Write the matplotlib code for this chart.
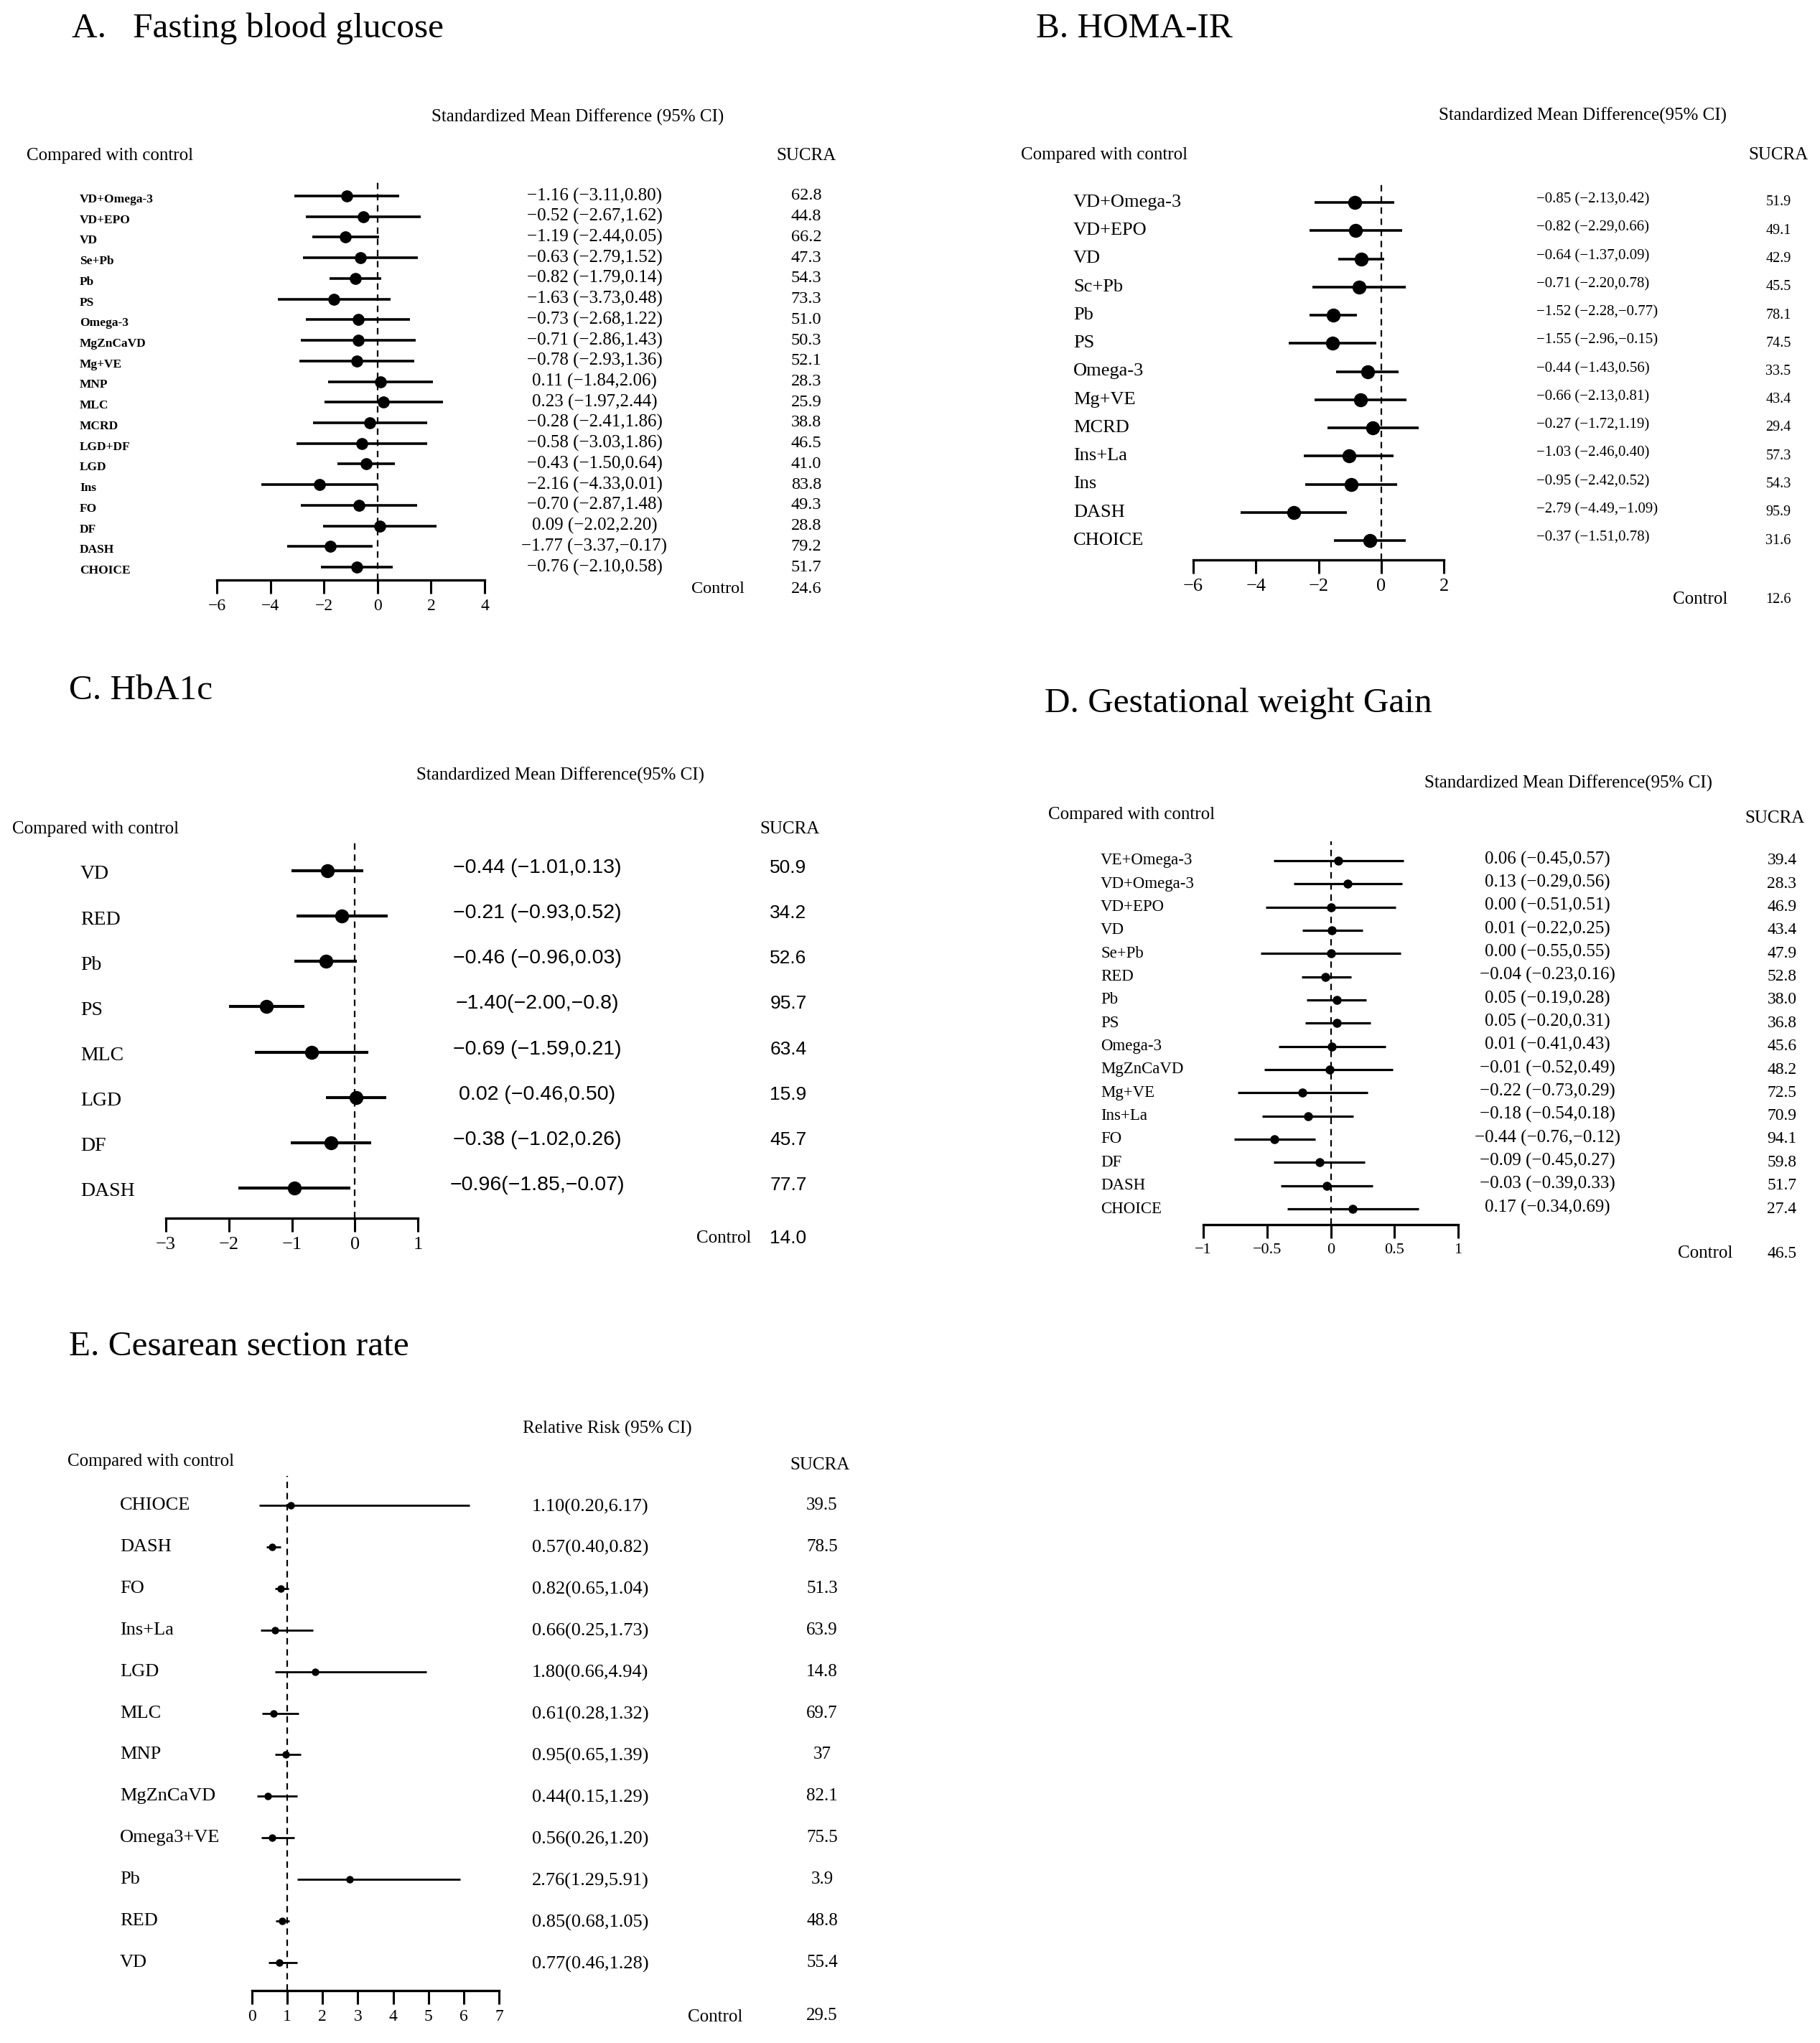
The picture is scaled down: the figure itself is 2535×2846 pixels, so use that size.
import matplotlib.pyplot as plt
import numpy as np

# figure size in pixels (saved at dpi 100)
W, H = 2535, 2846
plt.rcParams['font.family'] = ['Liberation Serif', 'DejaVu Serif']

# ---- A. Fasting blood glucose ----
a_labels = ['VD+Omega-3', 'VD+EPO', 'VD', 'Se+Pb', 'Pb', 'PS', 'Omega-3', 'MgZnCaVD', 'Mg+VE',
            'MNP', 'MLC', 'MCRD', 'LGD+DF', 'LGD', 'Ins', 'FO', 'DF', 'DASH', 'CHOICE']
a_est = [-1.16, -0.52, -1.19, -0.63, -0.82, -1.63, -0.73, -0.71, -0.78, 0.11, 0.23, -0.28, -0.58,
         -0.43, -2.16, -0.70, 0.09, -1.77, -0.76]
a_lo = [-3.11, -2.67, -2.44, -2.79, -1.79, -3.73, -2.68, -2.86, -2.93, -1.84, -1.97, -2.41, -3.03,
        -1.50, -4.33, -2.87, -2.02, -3.37, -2.10]
a_hi = [0.80, 1.62, 0.05, 1.52, 0.14, 0.48, 1.22, 1.43, 1.36, 2.06, 2.44, 1.86, 1.86,
        0.64, 0.01, 1.48, 2.20, -0.17, 0.58]
a_sucra = [62.8, 44.8, 66.2, 47.3, 54.3, 73.3, 51.0, 50.3, 52.1, 28.3, 25.9, 38.8, 46.5,
           41.0, 83.8, 49.3, 28.8, 79.2, 51.7]
a_control = 24.6
a_ticks = [-6, -4, -2, 0, 2, 4]

# ---- B. HOMA-IR ----
b_labels = ['VD+Omega-3', 'VD+EPO', 'VD', 'Sc+Pb', 'Pb', 'PS', 'Omega-3', 'Mg+VE', 'MCRD',
            'Ins+La', 'Ins', 'DASH', 'CHOICE']
b_est = [-0.85, -0.82, -0.64, -0.71, -1.52, -1.55, -0.44, -0.66, -0.27, -1.03, -0.95, -2.79, -0.37]
b_lo = [-2.13, -2.29, -1.37, -2.20, -2.28, -2.96, -1.43, -2.13, -1.72, -2.46, -2.42, -4.49, -1.51]
b_hi = [0.42, 0.66, 0.09, 0.78, -0.77, -0.15, 0.56, 0.81, 1.19, 0.40, 0.52, -1.09, 0.78]
b_sucra = [51.9, 49.1, 42.9, 45.5, 78.1, 74.5, 33.5, 43.4, 29.4, 57.3, 54.3, 95.9, 31.6]
b_control = 12.6
b_ticks = [-6, -4, -2, 0, 2]

# ---- C. HbA1c ----
c_labels = ['VD', 'RED', 'Pb', 'PS', 'MLC', 'LGD', 'DF', 'DASH']
c_est = [-0.44, -0.21, -0.46, -1.40, -0.69, 0.02, -0.38, -0.96]
c_lo = [-1.01, -0.93, -0.96, -2.00, -1.59, -0.46, -1.02, -1.85]
c_hi = [0.13, 0.52, 0.03, -0.8, 0.21, 0.50, 0.26, -0.07]
c_text = ['\u22120.44 (\u22121.01,0.13)', '\u22120.21 (\u22120.93,0.52)', '\u22120.46 (\u22120.96,0.03)',
          '\u22121.40(\u22122.00,\u22120.8)', '\u22120.69 (\u22121.59,0.21)', '0.02 (\u22120.46,0.50)',
          '\u22120.38 (\u22121.02,0.26)', '\u22120.96(\u22121.85,\u22120.07)']
c_sucra = [50.9, 34.2, 52.6, 95.7, 63.4, 15.9, 45.7, 77.7]
c_control = 14.0
c_ticks = [-3, -2, -1, 0, 1]

# ---- D. Gestational weight Gain ----
d_labels = ['VE+Omega-3', 'VD+Omega-3', 'VD+EPO', 'VD', 'Se+Pb', 'RED', 'Pb', 'PS', 'Omega-3',
            'MgZnCaVD', 'Mg+VE', 'Ins+La', 'FO', 'DF', 'DASH', 'CHOICE']
d_est = [0.06, 0.13, 0.00, 0.01, 0.00, -0.04, 0.05, 0.05, 0.01, -0.01, -0.22, -0.18, -0.44,
         -0.09, -0.03, 0.17]
d_lo = [-0.45, -0.29, -0.51, -0.22, -0.55, -0.23, -0.19, -0.20, -0.41, -0.52, -0.73, -0.54,
        -0.76, -0.45, -0.39, -0.34]
d_hi = [0.57, 0.56, 0.51, 0.25, 0.55, 0.16, 0.28, 0.31, 0.43, 0.49, 0.29, 0.18, -0.12,
        0.27, 0.33, 0.69]
d_sucra = [39.4, 28.3, 46.9, 43.4, 47.9, 52.8, 38.0, 36.8, 45.6, 48.2, 72.5, 70.9, 94.1,
           59.8, 51.7, 27.4]
d_control = 46.5
d_ticks = [-1, -0.5, 0, 0.5, 1]

# ---- E. Cesarean section rate ----
e_labels = ['CHIOCE', 'DASH', 'FO', 'Ins+La', 'LGD', 'MLC', 'MNP', 'MgZnCaVD', 'Omega3+VE',
            'Pb', 'RED', 'VD']
e_est = [1.10, 0.57, 0.82, 0.66, 1.80, 0.61, 0.95, 0.44, 0.56, 2.76, 0.85, 0.77]
e_lo = [0.20, 0.40, 0.65, 0.25, 0.66, 0.28, 0.65, 0.15, 0.26, 1.29, 0.68, 0.46]
e_hi = [6.17, 0.82, 1.04, 1.73, 4.94, 1.32, 1.39, 1.29, 1.20, 5.91, 1.05, 1.28]
e_sucra = [39.5, 78.5, 51.3, 63.9, 14.8, 69.7, 37, 82.1, 75.5, 3.9, 48.8, 55.4]
e_control = 29.5
e_ticks = [0, 1, 2, 3, 4, 5, 6, 7]

fig = plt.figure(figsize=(W / 100, H / 100), dpi=100)


# pixel -> figure fraction
def fx(x):
    return x / W


def fy(y):
    return 1 - y / H


def fmt(v):
    return f"{v:.2f}".replace('-', '\u2212')


def txt(x, y, s, size, ha='left', **kw):
    fig.text(fx(x), fy(y), s, fontsize=size, ha=ha, va='center', **kw)


# Draws one forest plot; rows run from row0 to row1 (pixels), axis line at axisY
def forest(labels, est, lo, hi, ticks, ref, xpix, row0, row1, top, axisY,
           lw, ms, labelX, labelSize, tickSize, bold=False, labelDy=0):
    n = len(labels)
    dy = (row1 - row0) / (n - 1)
    ax = fig.add_axes([fx(xpix[0]), fy(axisY), (xpix[1] - xpix[0]) / W, (axisY - top) / H])
    ys = np.arange(n)
    ax.hlines(ys, lo, hi, color='black', lw=lw)
    ax.plot(est, ys, 'o', color='black', ms=ms)
    ax.axvline(ref, color='black', lw=1.6, ls=(0, (4, 3)))
    ax.set_xlim(ticks[0], ticks[-1])
    ax.set_ylim((axisY - row0) / dy, (top - row0) / dy)
    for s in ['left', 'right', 'top']:
        ax.spines[s].set_visible(False)
    ax.spines['bottom'].set_linewidth(2.4)
    ax.set_yticks([])
    ax.set_xticks(ticks)
    ax.set_xticklabels([('%g' % t).replace('-', '\u2212') for t in ticks])
    ax.tick_params(axis='x', length=14, width=2.2, pad=5, labelsize=tickSize)
    ax.patch.set_alpha(0)
    rowsY = [row0 + i * dy for i in range(n)]
    for y, lab in zip(rowsY, labels):
        txt(labelX, y + labelDy, lab, labelSize, fontweight='bold' if bold else 'normal')
    return rowsY


# ---- panel A ----
txt(100, 40, 'A.   Fasting blood glucose', 35.5)
txt(805, 163, 'Standardized Mean Difference (95% CI)', 18, ha='center')
txt(37, 217, 'Compared with control', 18)
txt(1123, 217, 'SUCRA', 18, ha='center')
rows = forest(a_labels, a_est, a_lo, a_hi, a_ticks, 0, (302, 675), 273, 790, 248, 808,
              2.6, 11, 111, 12.5, 17, bold=True, labelDy=5)
for y, e, l, h, s in zip(rows, a_est, a_lo, a_hi, a_sucra):
    txt(828, y, f"{fmt(e)} ({fmt(l)},{fmt(h)})", 18, ha='center')
    txt(1123, y, str(s), 17.5, ha='center')
txt(1000, 821, 'Control', 17.5, ha='center')
txt(1123, 821, str(a_control), 17.5, ha='center')

# ---- panel B ----
txt(1443, 40, 'B. HOMA-IR', 35.5)
txt(2205, 161, 'Standardized Mean Difference(95% CI)', 18, ha='center')
txt(1422, 216, 'Compared with control', 18)
txt(2477, 216, 'SUCRA', 18, ha='center')
rows = forest(b_labels, b_est, b_lo, b_hi, b_ticks, 0, (1662, 2011), 282, 753, 256, 780,
              2.6, 13, 1495, 19, 19)
for y, e, l, h, s in zip(rows, b_est, b_lo, b_hi, b_sucra):
    txt(2140, y - 4, f"{fmt(e)} ({fmt(l)},{fmt(h)})", 15)
    txt(2477, y, str(s), 14.5, ha='center')
txt(2368, 835, 'Control', 18, ha='center')
txt(2477, 835, str(b_control), 14.5, ha='center')

# ---- panel C ----
txt(96, 962, 'C. HbA1c', 35.5)
txt(781, 1080, 'Standardized Mean Difference(95% CI)', 18, ha='center')
txt(17, 1155, 'Compared with control', 18)
txt(1100, 1155, 'SUCRA', 18, ha='center')
rows = forest(c_labels, c_est, c_lo, c_hi, c_ticks, 0, (231, 582), 1213, 1655, 1172, 1697,
              3.0, 13, 112, 20, 19, labelDy=5)
for y, t, s in zip(rows, c_text, c_sucra):
    txt(748, y - 4, t, 20.5, ha='center', family='Liberation Sans')
    txt(1098, y - 4, str(s), 19, ha='center', family='Liberation Sans')
txt(1008, 1725, 'Control', 18, ha='center')
txt(1098, 1725, str(c_control), 19, ha='center', family='Liberation Sans')

# ---- panel D ----
txt(1455, 980, 'D. Gestational weight Gain', 35.5)
txt(2185, 1091, 'Standardized Mean Difference(95% CI)', 18, ha='center')
txt(1460, 1135, 'Compared with control', 18)
txt(2472, 1140, 'SUCRA', 18, ha='center')
rows = forest(d_labels, d_est, d_lo, d_hi, d_ticks, 0, (1676, 2031), 1199, 1684, 1172, 1706,
              2.3, 8, 1533, 16.5, 16)
for y, e, l, h, s in zip(rows, d_est, d_lo, d_hi, d_sucra):
    txt(2155, y - 2, f"{fmt(e)} ({fmt(l)},{fmt(h)})", 18, ha='center')
    txt(2482, y, str(s), 17, ha='center')
txt(2375, 1746, 'Control', 18, ha='center')
txt(2482, 1746, str(d_control), 17, ha='center')

# ---- panel E ----
txt(96, 1876, 'E. Cesarean section rate', 35.5)
txt(846, 1990, 'Relative Risk (95% CI)', 18, ha='center')
txt(94, 2036, 'Compared with control', 18)
txt(1142, 2041, 'SUCRA', 18, ha='center')
rows = forest(e_labels, e_est, e_lo, e_hi, e_ticks, 1, (351, 695), 2097, 2734, 2056, 2773,
              2.0, 6.5, 167, 19, 17)
for y, e, l, h, s in zip(rows, e_est, e_lo, e_hi, e_sucra):
    txt(822, y + 2, f"{fmt(e)}({fmt(l)},{fmt(h)})", 19, ha='center')
    txt(1145, y, str(s), 18, ha='center')
txt(996, 2810, 'Control', 18, ha='center')
txt(1145, 2808, str(e_control), 18, ha='center')

fig.savefig('out.png', dpi=100, facecolor='white')
